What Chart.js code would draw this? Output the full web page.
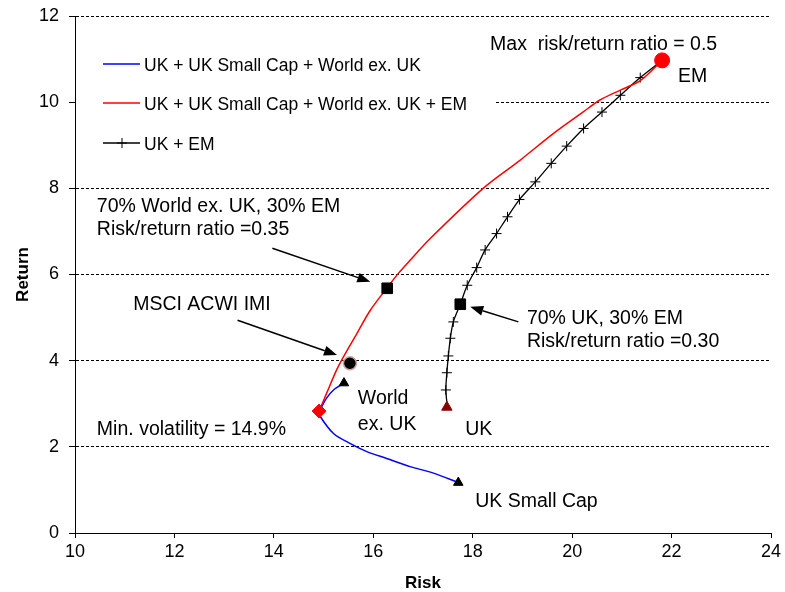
<!DOCTYPE html>
<html><head><meta charset="utf-8">
<script src="https://cdn.jsdelivr.net/npm/chart.js@4.4.0/dist/chart.umd.min.js"></script>
<style>html,body{margin:0;padding:0;background:#fff;overflow:hidden}</style>
</head><body>
<canvas id="c" width="785" height="592" style="width:785px;height:592px;display:block"></canvas>
<script>
// ---- data (risk = x, return = y) ----
const xTickValues = [10, 12, 14, 16, 18, 20, 22, 24];
const yTickValues = [0, 2, 4, 6, 8, 10, 12];

const seriesNames = ['UK + UK Small Cap + World ex. UK', 'UK + UK Small Cap + World ex. UK + EM', 'UK + EM'];

const blueRisk   = [15.41, 15.20, 15.06, 14.96, 14.91, 14.93, 15.20, 15.53, 15.87, 16.27, 16.74, 17.21, 17.71];
const blueReturn = [3.48, 3.32, 3.13, 2.93, 2.83, 2.71, 2.31, 2.08, 1.89, 1.73, 1.54, 1.39, 1.17];

const redRisk   = [14.91, 15.06, 15.26, 15.40, 15.67, 15.94, 16.27, 16.50, 16.74, 17.14, 18.21, 18.95, 19.62, 20.23, 20.56, 20.97, 21.37, 21.81];
const redReturn = [2.83, 3.24, 3.78, 4.09, 4.63, 5.17, 5.68, 6.02, 6.33, 6.83, 8.00, 8.65, 9.27, 9.78, 10.05, 10.28, 10.50, 10.97];

const ukEmRisk   = [17.49, 17.46, 17.48, 17.51, 17.55, 17.61, 17.75, 17.89, 18.08, 18.25, 18.48, 18.70, 18.94, 19.26, 19.58, 19.89, 20.23, 20.60, 20.97, 21.37, 21.81];
const ukEmReturn = [2.92, 3.32, 3.72, 4.11, 4.52, 4.90, 5.31, 5.75, 6.16, 6.57, 6.95, 7.34, 7.74, 8.15, 8.58, 8.98, 9.39, 9.77, 10.16, 10.57, 10.97];

const assetNames  = ['World ex. UK', 'UK Small Cap', 'UK', 'EM', 'Min. volatility', 'MSCI ACWI IMI', '70% World ex. UK, 30% EM', '70% UK, 30% EM'];
const assetRisk   = [15.41, 17.71, 17.48, 21.81, 14.91, 15.53, 16.28, 17.75];
const assetReturn = [3.48, 1.17, 2.92, 10.97, 2.83, 3.94, 5.68, 5.31];

// annotation texts anchored in data units (left x, baseline y)
const labelTexts = ['Max  risk/return ratio = 0.5', 'EM', '70% World ex. UK, 30% EM', 'Risk/return ratio =0.35',
  'MSCI ACWI IMI', 'World', 'ex. UK', 'UK', 'Min. volatility = 14.9%', 'UK Small Cap', '70% UK, 30% EM', 'Risk/return ratio =0.30'];
const labelRisk   = [18.35, 22.13, 10.44, 10.44, 11.17, 15.69, 15.69, 17.85, 10.44, 18.05, 19.09, 19.09];
const labelReturn = [11.21, 10.46, 7.45, 6.91, 5.17, 2.99, 2.39, 2.27, 2.27, 0.60, 4.85, 4.32];

// arrows: start -> tip (data units)
const arrowFromRisk = [13.97, 13.27, 18.92];
const arrowFromReturn = [6.61, 4.94, 4.90];
const arrowToRisk = [15.94, 15.27, 17.95];
const arrowToReturn = [5.83, 4.13, 5.25];

const FONT = "'Liberation Sans', Arial, sans-serif";
const zip = (xs, ys) => xs.map((x, i) => ({x, y: ys[i]}));
const pt = i => [{x: assetRisk[i], y: assetReturn[i]}];

const marker = (i, style, radius, bg, border, bw) => ({
  type: 'scatter', data: pt(i), pointStyle: style, pointRadius: radius, pointHoverRadius: radius,
  backgroundColor: bg, borderColor: border || bg, borderWidth: bw || 1, showLine: false, order: 0
});

const overlay = {
  id: 'overlay',
  beforeDatasetsDraw(chart) {
    const ctx = chart.ctx, a = chart.chartArea;
    ctx.save();
    // legend box (white, covers gridlines)
    ctx.fillStyle = '#fff';
    ctx.fillRect(a.left + 1, 28, 494 - a.left, 142);
    const ys = [64, 103, 143], cols = ['#0000ff', '#ff0000', '#000000'];
    ctx.font = '17.5px ' + FONT;
    ctx.textBaseline = 'alphabetic';
    for (let i = 0; i < 3; i++) {
      ctx.strokeStyle = cols[i]; ctx.lineWidth = 1.5;
      ctx.beginPath(); ctx.moveTo(103, ys[i]); ctx.lineTo(140, ys[i]); ctx.stroke();
      if (i === 2) {
        ctx.lineWidth = 1;
        ctx.beginPath(); ctx.moveTo(117, ys[i]); ctx.lineTo(127, ys[i]);
        ctx.moveTo(122, ys[i] - 5); ctx.lineTo(122, ys[i] + 5); ctx.stroke();
      }
      ctx.fillStyle = '#000';
      ctx.fillText(seriesNames[i], 144, ys[i] + 7);
    }
    ctx.restore();
  },
  afterDatasetsDraw(chart) {
    const ctx = chart.ctx, xs = chart.scales.x, ys = chart.scales.y;
    ctx.save();
    ctx.fillStyle = '#000';
    ctx.font = '19.5px ' + FONT;
    ctx.textBaseline = 'alphabetic';
    labelTexts.forEach((t, i) => ctx.fillText(t, xs.getPixelForValue(labelRisk[i]), ys.getPixelForValue(labelReturn[i])));
    ctx.strokeStyle = '#000'; ctx.lineWidth = 1.5;
    for (let i = 0; i < arrowFromRisk.length; i++) {
      const x1 = xs.getPixelForValue(arrowFromRisk[i]), y1 = ys.getPixelForValue(arrowFromReturn[i]);
      const x2 = xs.getPixelForValue(arrowToRisk[i]), y2 = ys.getPixelForValue(arrowToReturn[i]);
      const ang = Math.atan2(y2 - y1, x2 - x1), L = 13, W = 5;
      const bx = x2 - L * Math.cos(ang), by = y2 - L * Math.sin(ang);
      ctx.beginPath(); ctx.moveTo(x1, y1); ctx.lineTo(bx, by); ctx.stroke();
      ctx.beginPath(); ctx.moveTo(x2, y2);
      ctx.lineTo(bx + W * Math.sin(ang), by - W * Math.cos(ang));
      ctx.lineTo(bx - W * Math.sin(ang), by + W * Math.cos(ang));
      ctx.closePath(); ctx.fill();
    }
    ctx.restore();
  }
};

new Chart(document.getElementById('c'), {
  type: 'scatter',
  data: {
    datasets: [
      marker(0, 'triangle', 5.5, '#000'),
      marker(1, 'triangle', 5.5, '#000'),
      marker(2, 'triangle', 6, '#8b0000'),
      marker(3, 'circle', 7.5, '#ff0000'),
      marker(4, 'rectRot', 7, '#ff0000'),
      marker(5, 'circle', 6.5, '#000', '#d0a0a0', 1.5),
      marker(6, 'rect', 7.5, '#000'),
      marker(7, 'rect', 7.5, '#000'),
      { label: seriesNames[1], data: zip(redRisk, redReturn), showLine: true, borderColor: '#ff0000', borderWidth: 1.5, pointRadius: 0, tension: 0.3, order: 1 },
      { label: seriesNames[2], data: zip(ukEmRisk, ukEmReturn), showLine: true, borderColor: '#000', backgroundColor: '#000', borderWidth: 1.3,
        pointStyle: 'cross', pointRadius: ctx => (ctx.dataIndex === 0 ? 0 : 5), pointBorderWidth: 1, tension: 0.3, order: 2 },
      { label: seriesNames[0], data: zip(blueRisk, blueReturn), showLine: true, borderColor: '#0000ff', borderWidth: 1.5, pointRadius: 0, tension: 0.3, order: 3 }
    ]
  },
  options: {
    responsive: false, animation: false, devicePixelRatio: 1,
    layout: { padding: { top: 16, right: 14, left: 0, bottom: 0 } },
    plugins: { legend: { display: false }, tooltip: { enabled: false } },
    scales: {
      x: {
        type: 'linear', min: 10, max: 24,
        afterBuildTicks: s => { s.ticks = xTickValues.map(v => ({value: v})); },
        afterFit: s => { s.height = 59; s.paddingLeft = 0; s.paddingRight = 0; },
        grid: { drawOnChartArea: false, drawTicks: true, tickLength: 5, color: '#000', tickColor: '#000' },
        border: { display: true, color: '#000', width: 1 },
        ticks: { color: '#000', font: { family: FONT, size: 18 }, padding: 3, maxRotation: 0 },
        title: { display: true, text: 'Risk', color: '#000', font: { family: FONT, size: 17, weight: 'bold', lineHeight: 1 }, padding: { top: 0, bottom: 0 } }
      },
      y: {
        type: 'linear', min: 0, max: 12,
        afterBuildTicks: s => { s.ticks = yTickValues.map(v => ({value: v})); },
        afterFit: s => { s.width = 75; s.paddingTop = 0; s.paddingBottom = 0; },
        grid: { drawOnChartArea: true, drawTicks: true, tickLength: 6, color: '#000', tickColor: '#000', lineWidth: 1 },
        border: { display: true, color: '#000', width: 1, dash: [3, 2] },
        ticks: { color: '#000', font: { family: FONT, size: 18 }, padding: 10 },
        title: { display: true, text: 'Return', color: '#000', font: { family: FONT, size: 17, weight: 'bold' }, padding: { top: 13, bottom: 0 } }
      }
    }
  },
  plugins: [overlay]
});
</script>
</body></html>
